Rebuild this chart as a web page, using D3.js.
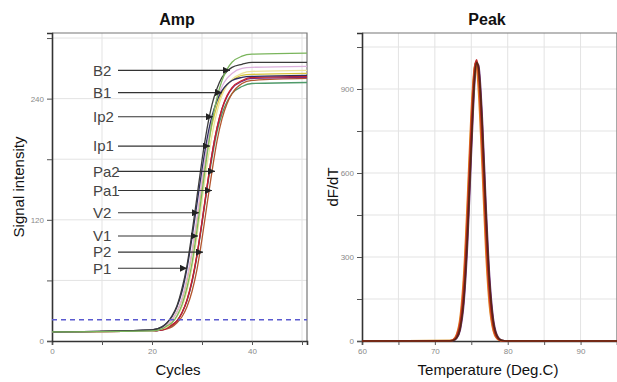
<!DOCTYPE html>
<html>
<head>
<meta charset="utf-8">
<script src="https://cdn.jsdelivr.net/npm/d3@7"></script>
<style>
  body { margin: 0; background: #fff; }
  svg { display: block; font-family: Arial, "Liberation Sans", sans-serif; }
</style>
</head>
<body>
<div id="holder"></div>
<script>
// ---- amplification data (signal intensity per cycle) ----
var cycles = [0, 20, 22, 23, 24, 25, 26, 27, 28, 29, 30, 31, 32, 33, 34, 35, 36, 38, 40, 51];
var ampGreenTop = [9, 10, 12, 15, 18, 25, 36, 53, 77, 110, 147, 184, 217, 241, 258, 269, 276, 282, 284, 285];
var ampGrey     = [9, 11, 14, 18, 25, 35, 52, 75, 107, 143, 179, 210, 234, 250, 261, 267, 271, 274, 276, 276];
var ampPink     = [9, 10, 13, 16, 21, 29, 42, 62, 89, 122, 159, 192, 219, 239, 252, 260, 265, 270, 271, 272];
var ampLtYellow = [9, 10, 12, 14, 18, 24, 34, 50, 73, 104, 139, 174, 204, 227, 243, 253, 259, 265, 267, 268];
var ampYellow   = [9, 10, 13, 16, 21, 29, 41, 60, 87, 119, 155, 187, 214, 233, 246, 254, 258, 263, 264, 265];
var ampNavy     = [9, 11, 14, 18, 24, 34, 49, 72, 102, 136, 170, 200, 223, 238, 248, 254, 258, 261, 262, 263];
var ampRed      = [9, 10, 11, 13, 16, 20, 28, 41, 60, 86, 118, 153, 185, 211, 230, 243, 251, 258, 261, 262];
var ampPurple   = [9, 10, 11, 13, 16, 20, 28, 40, 59, 85, 118, 152, 185, 211, 230, 242, 250, 257, 260, 261];
var ampBrown    = [9, 10, 11, 12, 14, 18, 24, 34, 49, 71, 101, 135, 168, 198, 220, 235, 245, 255, 258, 260];
var ampGreenLow = [9, 10, 11, 13, 15, 20, 28, 40, 58, 84, 116, 150, 181, 207, 225, 237, 245, 252, 255, 256];
var threshold = 21;

// arrow labels: name, tip cycle, tip signal
var labelNames  = ["B2", "B1", "Ip2", "Ip1", "Pa2", "Pa1", "V2", "V1", "P2", "P1"];
var labelCycle  = [35.6, 34, 32.2, 31.6, 32.6, 32, 29.4, 29.2, 30.2, 27];
var labelSignal = [268, 246, 222, 193, 168, 149, 127, 104, 88, 72];

// ---- melt peak data (dF/dT per temperature) ----
var temps = [60, 72, 72.5, 73, 73.5, 74, 74.5, 75, 75.5, 75.75, 76, 76.5, 77, 77.5, 78, 78.5, 79, 79.5, 80, 95];
var peakOrange = [0, 1, 5, 25, 90, 250, 520, 820, 990, 975, 890, 620, 320, 125, 38, 9, 2, 0, 0, 0];
var peakYellow = [0, 1, 4, 21, 78, 225, 485, 790, 985, 998, 935, 670, 360, 145, 45, 11, 2, 0, 0, 0];
var peakRed    = [0, 0.5, 3, 18, 68, 203, 452, 766, 983, 1004, 956, 705, 394, 167, 53, 13, 2, 0, 0, 0];
var peakGreen  = [0, 0, 2.5, 15, 58, 180, 420, 730, 960, 990, 960, 735, 425, 185, 62, 16, 3, 0, 0, 0];
var peakBrown  = [0, 0, 2, 12, 50, 160, 390, 700, 955, 995, 975, 770, 460, 210, 72, 19, 4, 1, 0, 0];
var peakPurple = [0, 0, 1.5, 10, 42, 140, 355, 665, 935, 990, 985, 800, 495, 235, 84, 23, 5, 1, 0, 0];

var ampSeries = [
  {vals: ampGreenLow, color: "#4f9a6a"},
  {vals: ampBrown, color: "#b3562e"},
  {vals: ampPurple, color: "#7b2a7b"},
  {vals: ampRed, color: "#c8202a"},
  {vals: ampYellow, color: "#d6c43a"},
  {vals: ampLtYellow, color: "#ece39a"},
  {vals: ampPink, color: "#dcb0dc"},
  {vals: ampNavy, color: "#2e2e62"},
  {vals: ampGrey, color: "#3c3c3c"},
  {vals: ampGreenTop, color: "#7ab55c"}
];
var peakSeries = [
  {vals: peakPurple, color: "#6a2a7a"},
  {vals: peakGreen, color: "#6aa040"},
  {vals: peakYellow, color: "#c8b030"},
  {vals: peakOrange, color: "#e07b20"},
  {vals: peakRed, color: "#c0282a"},
  {vals: peakBrown, color: "#5a2412"}
];

var fullWidth = 617, fullHeight = 382;
var svg = d3.select('#holder').append('svg')
  .attr('width', fullWidth)
  .attr('height', fullHeight);

svg.append('defs').append('marker')
  .attr('id', 'arrow')
  .attr('viewBox', '0 0 10 10')
  .attr('refX', 10).attr('refY', 5)
  .attr('markerWidth', 7).attr('markerHeight', 7)
  .attr('markerUnits', 'userSpaceOnUse')
  .attr('orient', 'auto')
  .append('path')
    .attr('d', 'M0,0 L10,5 L0,10 Z')
    .attr('fill', '#222');

// draws frame, grid, axes for one panel
function panel(x, y, opt) {
  var g = svg.append('g');
  var x0 = x.range()[0], x1 = x.range()[1];
  var y0 = y.range()[0], y1 = y.range()[1];

  g.selectAll('.vgrid').data(opt.xGrid).enter().append('line')
    .attr('x1', d => x(d)).attr('x2', d => x(d))
    .attr('y1', y0).attr('y2', y1)
    .attr('stroke', '#e3e3e3').attr('stroke-width', 1);
  g.selectAll('.hgrid').data(opt.yGrid).enter().append('line')
    .attr('x1', x0).attr('x2', x1)
    .attr('y1', d => y(d)).attr('y2', d => y(d))
    .attr('stroke', '#e3e3e3').attr('stroke-width', 1);

  // top and right border
  g.append('path')
    .attr('d', 'M' + x0 + ',' + y1 + 'H' + x1 + 'V' + y0)
    .attr('fill', 'none').attr('stroke', '#777').attr('stroke-width', 1.2);

  var xAxis = g.append('g')
    .attr('transform', 'translate(0,' + y0 + ')')
    .call(d3.axisBottom(x).tickValues(opt.xTicks).tickSize(4).tickPadding(3)
      .tickFormat(d => opt.xLabels.indexOf(d) >= 0 ? d : ''));
  var yAxis = g.append('g')
    .attr('transform', 'translate(' + x0 + ',0)')
    .call(d3.axisLeft(y).tickValues(opt.yTicks).tickSize(5).tickPadding(3)
      .tickFormat(d => opt.yLabels.indexOf(d) >= 0 ? d : ''));
  [xAxis, yAxis].forEach(function(a) {
    a.select('.domain').attr('stroke', '#333').attr('stroke-width', 1.6);
    a.selectAll('.tick line').attr('stroke', '#555');
    a.selectAll('.tick text').attr('fill', '#8a8a8a').style('font-size', '8px');
  });
  return g;
}

// ---------------- Amp panel ----------------
var ampX = d3.scaleLinear().domain([0, 51]).range([52, 307]);
var ampY = d3.scaleLinear().domain([0, 305]).range([341, 33]);

panel(ampX, ampY, {
  xGrid: [10, 20, 30, 40, 50], yGrid: [60, 120, 180, 240, 300],
  xTicks: [0, 10, 20, 30, 40, 50], xLabels: [0, 20, 40],
  yTicks: [0, 60, 120, 180, 240, 300], yLabels: [0, 120, 240]
});

var ampLine = d3.line()
  .x((d, i) => ampX(cycles[i]))
  .y(d => ampY(d))
  .curve(d3.curveMonotoneX);

svg.append('g').selectAll('path').data(ampSeries).enter().append('path')
  .attr('d', d => ampLine(d.vals))
  .attr('fill', 'none')
  .attr('stroke', d => d.color)
  .attr('stroke-width', 1.3);

svg.append('line')
  .attr('x1', ampX(0)).attr('x2', ampX(51))
  .attr('y1', ampY(threshold)).attr('y2', ampY(threshold))
  .attr('stroke', '#5a5ad0').attr('stroke-width', 1.6)
  .attr('stroke-dasharray', '5,4');

var labels = svg.append('g').selectAll('g').data(labelNames).enter().append('g');
labels.append('line')
  .attr('x1', 118)
  .attr('x2', (d, i) => ampX(labelCycle[i]))
  .attr('y1', (d, i) => ampY(labelSignal[i]))
  .attr('y2', (d, i) => ampY(labelSignal[i]))
  .attr('stroke', '#333').attr('stroke-width', 1.1)
  .attr('marker-end', 'url(#arrow)');
labels.append('text')
  .attr('x', 93)
  .attr('y', (d, i) => ampY(labelSignal[i]))
  .attr('dy', '0.35em')
  .attr('fill', '#444')
  .style('font-size', '15px')
  .text(d => d);

svg.append('text').attr('x', 177).attr('y', 25).attr('text-anchor', 'middle')
  .style('font-size', '16px').style('font-weight', 'bold').attr('fill', '#111').text('Amp');
svg.append('text').attr('x', 178).attr('y', 375).attr('text-anchor', 'middle')
  .style('font-size', '15px').attr('fill', '#111').text('Cycles');
svg.append('text').attr('transform', 'translate(24,187) rotate(-90)').attr('text-anchor', 'middle')
  .style('font-size', '15px').attr('fill', '#111').text('Signal intensity');

// ---------------- Peak panel ----------------
var peakX = d3.scaleLinear().domain([60, 95]).range([362, 617]);
var peakY = d3.scaleLinear().domain([0, 1100]).range([341, 33]);

panel(peakX, peakY, {
  xGrid: [65, 70, 75, 80, 85, 90, 95], yGrid: [150, 300, 450, 600, 750, 900, 1050],
  xTicks: [60, 65, 70, 75, 80, 85, 90, 95], xLabels: [60, 70, 80, 90],
  yTicks: [0, 150, 300, 450, 600, 750, 900, 1050], yLabels: [0, 300, 600, 900]
});

var peakLine = d3.line()
  .x((d, i) => peakX(temps[i]))
  .y(d => peakY(d))
  .curve(d3.curveMonotoneX);

svg.append('g').selectAll('path').data(peakSeries).enter().append('path')
  .attr('d', d => peakLine(d.vals))
  .attr('fill', 'none')
  .attr('stroke', d => d.color)
  .attr('stroke-width', 1.7);

svg.append('text').attr('x', 487).attr('y', 25).attr('text-anchor', 'middle')
  .style('font-size', '16px').style('font-weight', 'bold').attr('fill', '#111').text('Peak');
svg.append('text').attr('x', 488).attr('y', 375).attr('text-anchor', 'middle')
  .style('font-size', '15px').attr('fill', '#111').text('Temperature (Deg.C)');
svg.append('text').attr('transform', 'translate(338,187) rotate(-90)').attr('text-anchor', 'middle')
  .style('font-size', '15px').attr('fill', '#111').text('dF/dT');
</script>
</body>
</html>
